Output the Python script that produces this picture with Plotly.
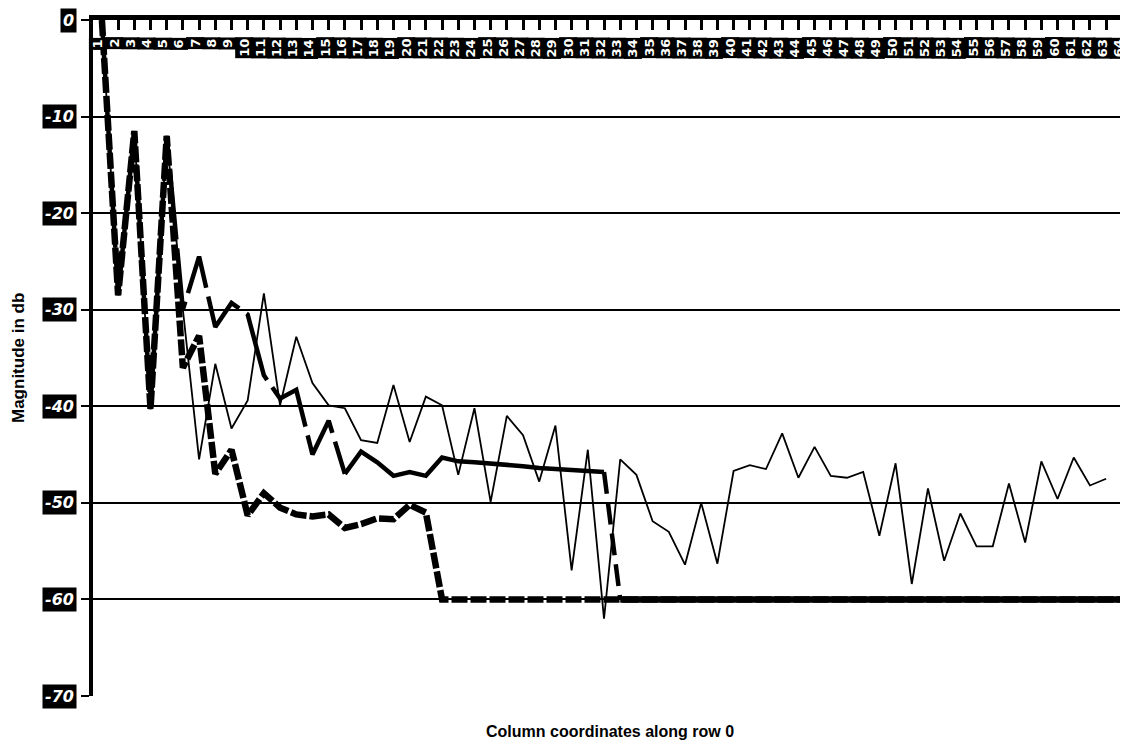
import plotly.graph_objects as go

# ---------------- data ----------------
columns = list(range(1, 65))
column_labels = [str(c) for c in columns]

y_tick_values = [0, -10, -20, -30, -40, -50, -60, -70]
y_tick_labels = ["0", "-10", "-20", "-30", "-40", "-50", "-60", "-70"]

# thin solid line
series_thin = [0, -28.5, -11.5, -40.3, -12, -30, -45.5, -35.6, -42.3, -39.4,
               -28.3, -39.9, -32.8, -37.6, -39.9, -40.2, -43.5, -43.8, -37.8, -43.7,
               -39.0, -39.9, -47.1, -40.2, -49.9, -41.0, -43.0, -47.8, -42.0, -57.0,
               -44.5, -62.0, -45.5, -47.1, -51.9, -53.0, -56.4, -50.0, -56.3, -46.7,
               -46.1, -46.5, -42.8, -47.4, -44.2, -47.2, -47.4, -46.8, -53.4, -45.9,
               -58.4, -48.5, -56.0, -51.1, -54.5, -54.5, -48.0, -54.1, -45.7, -49.6,
               -45.3, -48.2, -47.5, None]

# thick line
series_thick = [0, -28.5, -11.5, -40.3, -12, -30, -24.5, -31.8, -29.3, -30.5,
                -36.8, -39.2, -38.3, -45.0, -41.5, -47.0, -44.7, -45.8, -47.2, -46.8,
                -47.2, -45.3, -45.7, -45.8, -45.9, -46.0, -46.2, -46.4, -46.5, -46.6,
                -46.7, -46.8] + [-60] * 32

# thick dashed line
series_dashed = [0, -28.5, -11.5, -40.3, -12, -36, -32.7, -47.0, -44.5, -51.3,
                 -49.0, -50.5, -51.2, -51.4, -51.2, -52.6, -52.2, -51.6, -51.7, -50.2,
                 -51.0] + [-60] * 43

x_title = "Column coordinates along row 0"
y_title = "Magnitude in db"

# ---------------- figure ----------------
fig = go.Figure()

fig.add_trace(go.Scatter(x=columns, y=series_thin, mode="lines",
                         line=dict(color="black", width=1.8), showlegend=False,
                         connectgaps=False))
# thick series: long-dash at start, solid in the middle, dashed drop, solid floor
fig.add_trace(go.Scatter(x=columns[0:16], y=series_thick[0:16], mode="lines",
                         line=dict(color="black", width=4.5, dash="70px,9px"),
                         showlegend=False))
fig.add_trace(go.Scatter(x=columns[15:32], y=series_thick[15:32], mode="lines",
                         line=dict(color="black", width=4.5), showlegend=False))
fig.add_trace(go.Scatter(x=columns[31:33], y=series_thick[31:33], mode="lines",
                         line=dict(color="black", width=4.5, dash="22px,9px"),
                         showlegend=False))
fig.add_trace(go.Scatter(x=columns[32:], y=series_thick[32:], mode="lines",
                         line=dict(color="black", width=6.5), showlegend=False))
fig.add_trace(go.Scatter(x=columns, y=series_dashed, mode="lines",
                         line=dict(color="black", width=6.5, dash="16px,3px"),
                         showlegend=False))

annotations = []
# x category labels: white on black, rotated
for c, lab in zip(columns, column_labels):
    annotations.append(dict(
        x=c, xref="x", y=1, yref="paper", yshift=-17, xshift=-4,
        xanchor="center", yanchor="top", text=lab, textangle=-90,
        showarrow=False, bgcolor="black", borderpad=1,
        font=dict(family="DejaVu Sans", size=13, color="white", weight="bold")))
# y tick labels: white bold italic on black
for v, lab in zip(y_tick_values, y_tick_labels):
    annotations.append(dict(
        x=0, xref="paper", y=v, yref="y", xshift=-16,
        xanchor="right", yanchor="middle", text=lab,
        showarrow=False, bgcolor="black", borderpad=2,
        font=dict(family="DejaVu Sans", size=16, color="white",
                  weight="bold", style="italic")))
annotations.append(dict(
    x=0.5, xref="paper", y=0, yref="paper", yshift=-35, xshift=-1,
    xanchor="center", yanchor="middle", text=x_title, showarrow=False,
    font=dict(family="Liberation Sans", size=16, color="black", weight="bold")))
annotations.append(dict(
    x=0, xref="paper", y=0.5, yref="paper", xshift=-75,
    xanchor="center", yanchor="middle", text=y_title, textangle=-90,
    showarrow=False,
    font=dict(family="Liberation Sans", size=17, color="black", weight="bold")))

fig.update_layout(
    width=1120, height=738,
    margin=dict(l=85, r=0, t=12, b=50),
    paper_bgcolor="white", plot_bgcolor="white",
    showlegend=False,
    annotations=annotations,
    xaxis=dict(range=[0.45, 64.35], side="top", showline=True, linecolor="black",
               linewidth=5, ticks="inside", ticklen=10, tickwidth=3,
               tickcolor="black", tickmode="array", tickvals=columns,
               showticklabels=False, showgrid=False, zeroline=False),
    yaxis=dict(range=[-70, 0], showline=True, linecolor="black", linewidth=4,
               ticks="outside", ticklen=8, tickwidth=2, tickcolor="black",
               tickmode="array", tickvals=y_tick_values, showticklabels=False,
               showgrid=True, gridcolor="black", gridwidth=2, zeroline=False),
)

fig.write_html("out.html")
